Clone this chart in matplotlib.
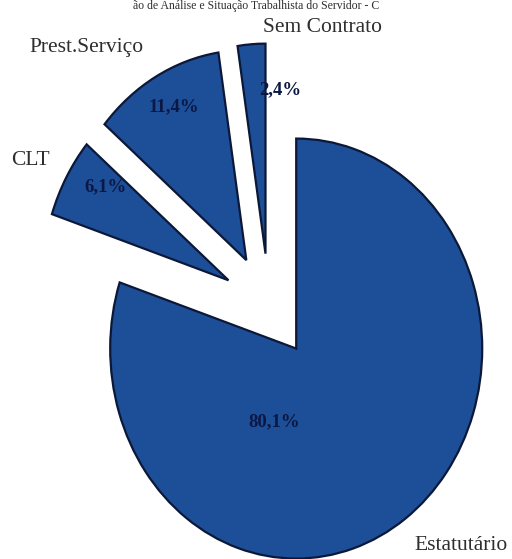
import matplotlib
matplotlib.use("Agg")
import matplotlib.pyplot as plt

# Employment-contract breakdown of staff
categories = ["Sem Contrato", "Prest.Serviço", "CLT", "Estatutário"]
shares = [2.4, 11.4, 6.1, 80.1]

# Layout (data units, pie radius = 1)
name_pos = [(0.29, 1.325), (-0.98, 1.23), (-1.28, 0.695), (1.03, -1.14)]
pct_pos = [(0.06, 1.03), (-0.51, 0.95), (-0.88, 0.57), (0.03, -0.55)]

W, H = 512, 559
fig = plt.figure(figsize=(W / 100, H / 100), dpi=100)
ax = fig.add_axes([0, 0, 1, 1])

face = "#1d4f98"
edge = "#0c1838"
wedges, _ = ax.pie(
    shares,
    startangle=90,
    counterclock=True,
    explode=[0.25] * len(shares),
    colors=[face] * len(shares),
    wedgeprops=dict(edgecolor=edge, linewidth=1.6),
    normalize=True,
)

# Stretch the pie vertically (radius ~186 px wide, ~210 px tall)
rx, ry = 186, 210
cx, cy = 269, 306  # pie centre in pixel space from the top-left
ax.set_aspect("auto")
ax.set_xlim(-cx / rx, (W - cx) / rx)
ax.set_ylim(-(H - cy) / ry, cy / ry)
ax.axis("off")

serif = ["Liberation Serif", "DejaVu Serif"]
for name, (x, y) in zip(categories, name_pos):
    ax.text(x, y, name, ha="center", va="center", fontsize=15.5,
            color="#2e2e2e", family=serif)

for val, (x, y) in zip(shares, pct_pos):
    ax.text(x, y, f"{val:.1f}%".replace(".", ","), ha="center", va="center",
            fontsize=13.5, color="#0b1845", family=serif, fontweight="bold")

# Title line along the top edge
fig.text(0.5, 1 - 0.5 / H, "ão de Análise e Situação Trabalhista do Servidor - C",
         ha="center", va="top", fontsize=8.5, color="#2e2e2e", family=serif)

fig.savefig("out.png", dpi=100)
